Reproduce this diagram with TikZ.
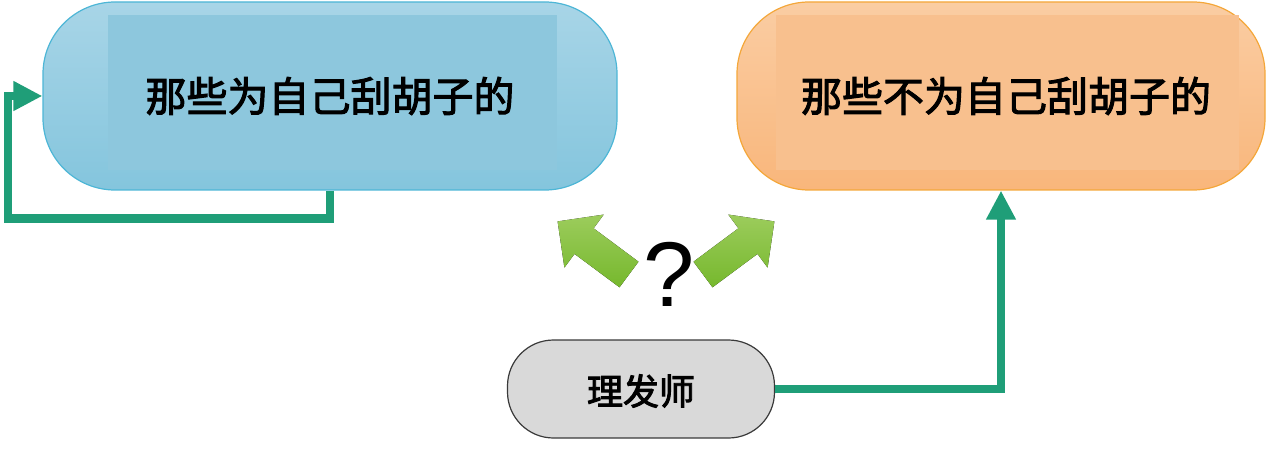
\documentclass[tikz,border=0pt]{standalone}
\usepackage{fontspec}
\setmainfont{Liberation Sans}
\newfontfamily\cjk{Noto Sans CJK SC}[BoldFont={Noto Sans CJK SC},BoldFeatures={FakeBold=2.5}]
\usetikzlibrary{arrows.meta}
\definecolor{ltop}{HTML}{A8D5E7}
\definecolor{lbot}{HTML}{84C5DD}
\definecolor{linner}{HTML}{8DC7DD}
\definecolor{lborder}{HTML}{4DB6D6}
\definecolor{rtop}{HTML}{FACDA3}
\definecolor{rbot}{HTML}{F9B67B}
\definecolor{rinner}{HTML}{F8C08E}
\definecolor{rborder}{HTML}{F4A73A}
\definecolor{barfill}{HTML}{D9D9D9}
\definecolor{barborder}{HTML}{3A3A3A}
\definecolor{conngreen}{HTML}{1F9E78}
\definecolor{arrlight}{HTML}{9CCC5C}
\definecolor{arrdark}{HTML}{76B82D}
\begin{document}
\begin{tikzpicture}[x=1pt,y=1pt,
  bigbox/.style={rectangle, rounded corners=72pt, inner sep=0pt, line width=1.2pt},
  lboxstyle/.style={bigbox, draw=lborder, top color=ltop, bottom color=lbot},
  rboxstyle/.style={bigbox, draw=rborder, top color=rtop, bottom color=rbot},
  barstyle/.style={rectangle, rounded corners=46pt, inner sep=0pt, line width=1.2pt,
    draw=barborder, fill=barfill, minimum width=267pt, minimum height=98pt},
  bigtext/.style={inner sep=0pt, font=\cjk\bfseries\fontsize{41}{41}\selectfont},
  bartext/.style={inner sep=0pt, font=\cjk\bfseries\fontsize{36}{36}\selectfont},
  conn/.style={draw=conngreen, line width=8.5pt},
  conntip/.style={-{Triangle[length=29pt,width=28pt]}},
  blockarrow/.style={top color=arrlight, bottom color=arrdark, draw=none}
]
\useasboundingbox (0,0) rectangle (1266,-449);

% boxes
\node[lboxstyle, minimum width=574pt, minimum height=188pt] (lbox) at (330,-96) {};
\node[rboxstyle, minimum width=528pt, minimum height=188pt] (rbox) at (1001,-96) {};
\node[barstyle] (bar) at (641,-389) {};

% inner lighter panels
\fill[linner] ([xshift=66pt,yshift=-14pt]lbox.north west) rectangle ([xshift=-61pt,yshift=21pt]lbox.south east);
\fill[rinner] ([xshift=40pt,yshift=-14pt]rbox.north west) rectangle ([xshift=-27pt,yshift=21pt]rbox.south east);

% texts
\node[bigtext] (ltxt) at (lbox.center) {那些为自己刮胡子的};
\node[bigtext] (rtxt) at ([xshift=5pt]rbox.center) {那些不为自己刮胡子的};
\node[bartext] (btxt) at ([yshift=-2pt]bar.center) {理发师};

% connectors
\coordinate (loopc) at (8,-218.5);
\draw[conn, conntip] (lbox.south) |- (loopc) |- (lbox.west);
\draw[conn, conntip] (bar.east) -| (rbox.south);

% question mark and block arrows
\node[anchor=base, inner sep=0pt, font=\fontsize{92}{92}\selectfont] (qm) at (669,-306.5) {?};
\fill[blockarrow] (638.5,-261.7) -- (593.6,-228.3) -- (603.7,-214.6) -- (557.6,-221.4)
  -- (564.4,-267.6) -- (574.5,-253.9) -- (619.5,-287.3) -- cycle;
\fill[blockarrow] (693.5,-261.7) -- (738.4,-228.3) -- (728.3,-214.6) -- (774.4,-221.4)
  -- (767.6,-267.6) -- (757.5,-253.9) -- (712.5,-287.3) -- cycle;
\end{tikzpicture}
\end{document}
